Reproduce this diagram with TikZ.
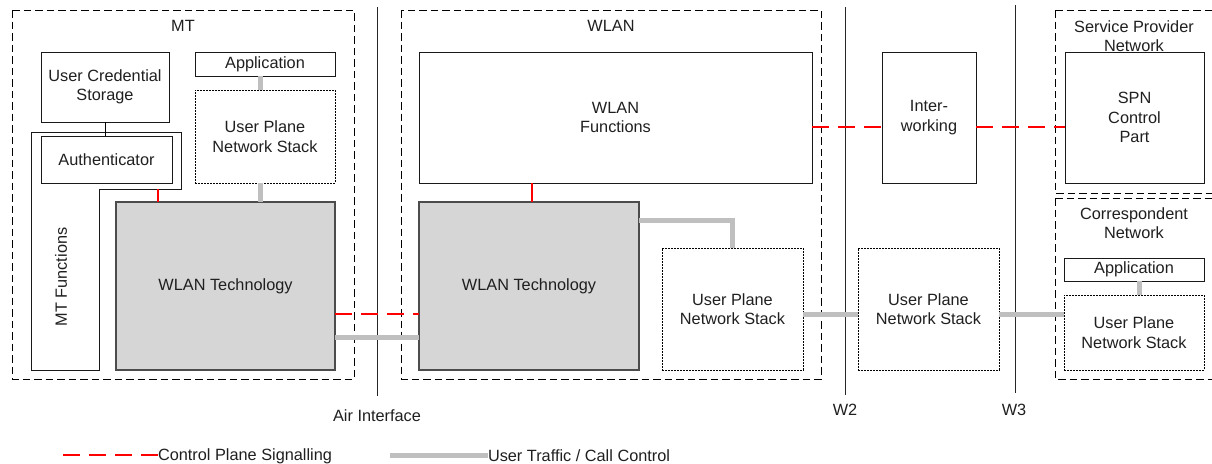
\documentclass[tikz,border=0pt]{standalone}
\usepackage{fontspec}
\setmainfont{Liberation Sans}
\begin{document}
\begin{tikzpicture}[x=1pt,y=-1pt,
  every node/.style={font=\fontsize{16.3}{19.5}\selectfont, text=black!88, align=center, inner sep=0pt, outer sep=0pt},
  box/.style={draw=black!90, line width=0.9pt, rectangle},
  dotbox/.style={draw=black, line width=0.9pt, dash pattern=on 1.6pt off 1.4pt, rectangle},
  techbox/.style={draw=black!70, fill=black!16, line width=1.2pt, rectangle},
  region/.style={draw=black, line width=0.9pt, dash pattern=on 7.5pt off 4pt},
  ctrl/.style={draw=red, line width=1.6pt, dash pattern=on 17pt off 9pt},
  ctrlsolid/.style={draw=red, line width=1.6pt},
  user/.style={draw=black!25, line width=5pt},
  iface/.style={draw=black!85, line width=0.9pt},
  lbl/.style={}
]
\useasboundingbox (0,0) rectangle (1212,463);

% interface lines
\coordinate (airT) at (377,7);  \coordinate (airB) at (377,396);
\coordinate (w2T) at (845,7);   \coordinate (w2B) at (845,395);
\coordinate (w3T) at (1015,5);  \coordinate (w3B) at (1015,393);
\draw[iface] (airT) -- (airB);
\draw[iface] (w2T) -- (w2B);
\draw[iface] (w3T) -- (w3B);
\node[lbl] (airL) at (377,416) {Air Interface};
\node[lbl] (w2L) at (845,410) {W2};
\node[lbl] (w3L) at (1014,410) {W3};

% regions
\draw[region] (12,10) rectangle (354,379);
\node[lbl] (mtL) at (183,26) {MT};
\draw[region] (401,10) rectangle (821,379);
\node[lbl] (wlanL) at (611,26) {WLAN};
\draw[region] (1055,10) -- (1216,10);
\draw[region] (1055,10) -- (1055,193) -- (1216,193);
\node[lbl] (spnL) at (1134,36) {Service Provider\\Network};
\draw[region] (1055,198) -- (1216,198);
\draw[region] (1055,198) -- (1055,379) -- (1216,379);
\node[lbl] (cnL) at (1134,223) {Correspondent\\Network};

% MT functions outline
\draw[line width=0.9pt, draw=black!90] (31,132) -- (181,132) -- (181,189) -- (99,189) -- (99,370) -- (31,370) -- cycle;
\node[lbl, rotate=90] (mtfL) at (61,277) {MT Functions};
\coordinate (mtf) at (158,189);

% MT boxes
\node[box, minimum width=128, minimum height=70] (ucs) at (105,87) {User Credential\\Storage};
\node[box, minimum width=140, minimum height=24] (appM) at (265,64) {Application};
\node[dotbox, minimum width=140, minimum height=93] (upM) at (265,136.5) {User Plane\\Network Stack};
\node[box, minimum width=131, minimum height=47] (auth) at (106.5,159.5) {Authenticator};
\node[techbox, minimum width=219, minimum height=168] (wtM) at (225.5,286) {WLAN Technology};

% WLAN boxes
\node[box, minimum width=393, minimum height=131] (wf) at (615.5,117.5) {WLAN\\Functions};
\node[techbox, minimum width=220, minimum height=168] (wtW) at (529,286) {WLAN Technology};
\node[dotbox, minimum width=141, minimum height=122] (upW) at (732.5,309) {User Plane\\Network Stack};

% middle
\node[box, minimum width=94, minimum height=131] (iw) at (929,117.5) {Inter-\\working};
\node[dotbox, minimum width=141, minimum height=122] (upX) at (928.5,309) {User Plane\\Network Stack};

% right
\node[box, minimum width=139, minimum height=131] (spn) at (1134.5,117.5) {SPN\\Control\\Part};
\node[box, minimum width=140, minimum height=23] (appR) at (1134,269.5) {Application};
\node[dotbox, minimum width=140, minimum height=75] (upR) at (1134,332.5) {User Plane\\Network Stack};

% connectors
\draw[line width=0.9pt] (ucs.south) -- (ucs.south |- auth.north);
\draw[ctrlsolid] (mtf) -- (mtf |- wtM.north);
\draw[user] ([xshift=-5pt]appM.south) -- ([xshift=-5pt]upM.north);
\draw[user] ([xshift=-5pt]upM.south) -- ([xshift=-5pt]upM.south |- wtM.north);
\draw[ctrl] ([yshift=-28pt]wtM.east) -- ([yshift=-28pt]wtM.east -| wtW.west);
\draw[user] ([yshift=-51pt]wtM.east) -- ([yshift=-51pt]wtM.east -| wtW.west);
\draw[ctrlsolid] ([xshift=-83.5pt]wf.south) -- ([xshift=-83.5pt]wf.south |- wtW.north);
\draw[user] ([yshift=66pt]wtW.east) -| (upW.north);
\draw[user] ([yshift=-5pt]upW.east) -- ([yshift=-5pt]upW.east -| upX.west);
\draw[user] ([yshift=-5pt]upX.east) -- ([yshift=-5pt]upX.east -| upR.west);
\draw[user] ([xshift=5pt]appR.south) -- ([xshift=5pt]upR.north);
\draw[ctrl] ([yshift=-9.5pt]wf.east) -- ([yshift=-9.5pt]wf.east -| iw.west);
\draw[ctrl] ([yshift=-9.5pt]iw.east) -- ([yshift=-9.5pt]iw.east -| spn.west);

% legend
\coordinate (lg1a) at (63,455); \coordinate (lg1b) at (158,455);
\coordinate (lg2a) at (390,455); \coordinate (lg2b) at (488,455);
\draw[ctrl] (lg1a) -- (lg1b);
\node[lbl, anchor=west] (lg1) at ([yshift=-1pt]lg1b) {Control Plane Signalling};
\draw[user] (lg2a) -- (lg2b);
\node[lbl, anchor=west] (lg2) at ([yshift=-1pt]lg2b) {User Traffic / Call Control};
\end{tikzpicture}
\end{document}
